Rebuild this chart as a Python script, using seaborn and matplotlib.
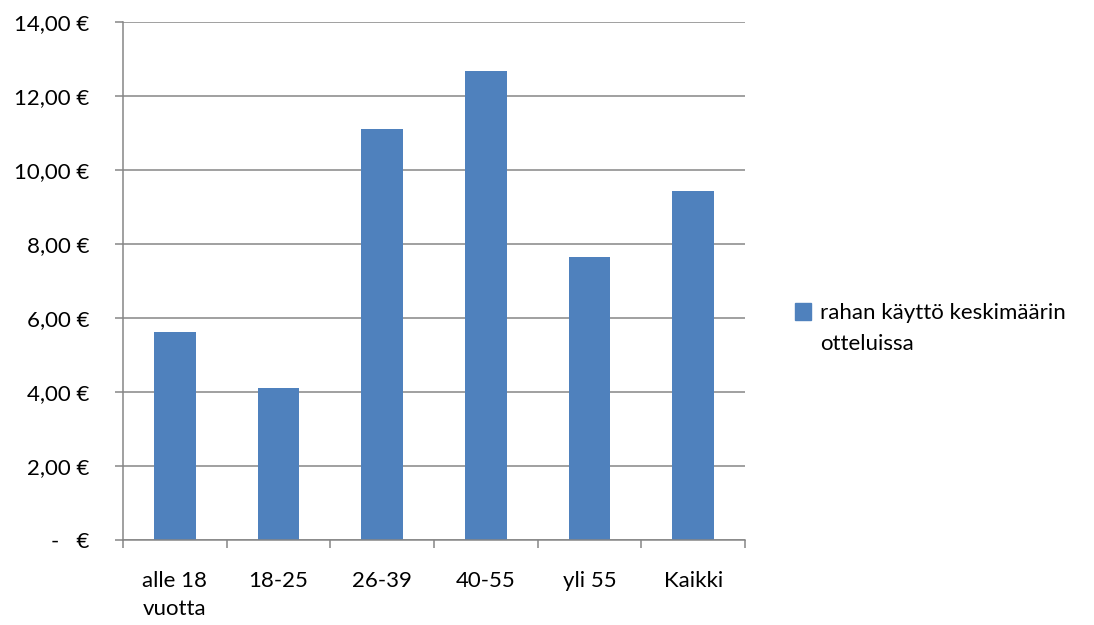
import matplotlib
matplotlib.use("Agg")
import matplotlib.pyplot as plt
import seaborn as sns
from matplotlib.patches import Patch
from matplotlib.ticker import FuncFormatter, FixedLocator

categories = ["alle 18\nvuotta", "18-25", "26-39", "40-55", "yli 55", "Kaikki"]
values = [5.62, 4.11, 11.11, 12.68, 7.65, 9.43]
series_label = ["rahan käyttö keskimäärin", "otteluissa"]
y_ticks = [0, 2, 4, 6, 8, 10, 12, 14]

sns.set_style("white")
plt.rcParams["font.family"] = ["Lato", "DejaVu Sans"]
plt.rcParams["text.color"] = "black"
plt.rcParams["xtick.labelcolor"] = "black"
plt.rcParams["ytick.labelcolor"] = "black"
fs = 16

blue = "#4F81BD"
grey = "#868686"

fig = plt.figure(figsize=(10.94, 6.25), dpi=100)
ax = fig.add_axes([0.1124, 0.136, 0.5686, 0.8288])

sns.barplot(x=categories, y=values, color=blue, width=0.4, saturation=1,
            linewidth=0, ax=ax)

ax.set_xlim(-0.5, len(categories) - 0.5)
ax.set_ylim(0, 14)
ax.set_yticks(y_ticks)


def euro(v, pos):
    if v == 0:
        return "-   €"
    return f"{v:.2f}".replace(".", ",") + " €"


ax.yaxis.set_major_formatter(FuncFormatter(euro))
ax.yaxis.grid(True, color=grey, linewidth=1.1)
ax.set_axisbelow(True)

for side in ["top", "right"]:
    ax.spines[side].set_visible(False)
for side in ["left", "bottom"]:
    ax.spines[side].set_color(grey)
    ax.spines[side].set_linewidth(1.1)

ax.set_xticks(range(len(categories)), categories, multialignment="left", linespacing=1.55)
ax.tick_params(axis="y", left=True, length=6, color=grey, width=1.1, pad=18,
               labelsize=fs, labelcolor="black")
ax.tick_params(axis="x", which="major", length=0, pad=22, labelsize=fs, labelcolor="black")
ax.xaxis.set_minor_locator(FixedLocator([i - 0.5 for i in range(len(categories) + 1)]))
ax.tick_params(axis="x", which="minor", bottom=True, length=6, color=grey, width=1.1)

ax.set_xlabel("")
ax.set_ylabel("")

handles = [Patch(facecolor=blue, edgecolor=blue), Patch(facecolor="none", edgecolor="none")]
leg = fig.legend(handles, series_label, loc="upper left", bbox_to_anchor=(0.708, 0.547),
                 frameon=False, handlelength=0.75, handleheight=0.75, handletextpad=0.4,
                 labelspacing=0.5, fontsize=fs)
for t in leg.get_texts():
    t.set_color("black")

fig.savefig("out.png", dpi=100)
